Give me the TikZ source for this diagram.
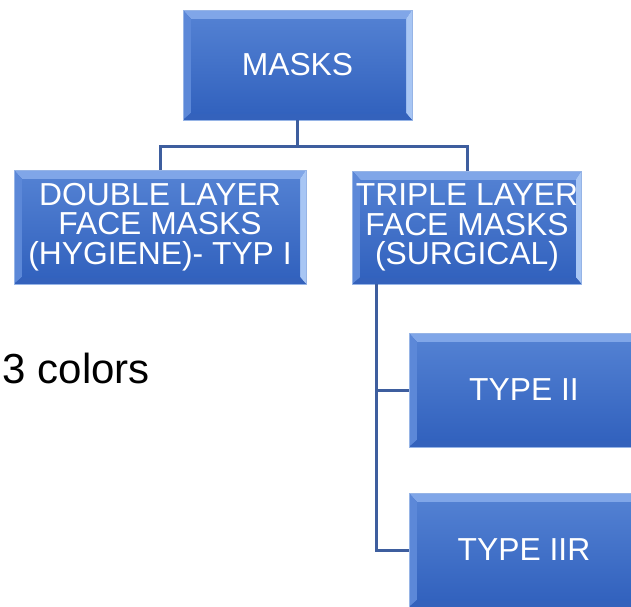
\documentclass[tikz,border=0pt]{standalone}
\usepackage{fontspec}
\setmainfont{Liberation Sans}
\definecolor{faceTop}{RGB}{82,128,210}
\definecolor{faceBot}{RGB}{50,98,190}
\definecolor{bevTop}{RGB}{128,166,232}
\definecolor{bevLeft}{RGB}{92,136,216}
\definecolor{bevRight}{RGB}{168,198,244}
\definecolor{bevBot}{RGB}{52,98,188}
\definecolor{rimCol}{RGB}{150,180,230}
\definecolor{linkCol}{RGB}{62,94,158}
\begin{document}
\begin{tikzpicture}[x=1pt,y=-1pt,
  mbox/.style={
    fill=faceBot,
    draw=rimCol, line width=0.6pt,
    inner sep=0pt, align=center, text=white,
    font=\fontsize{31.8}{29.5}\selectfont,
    path picture={
      \fill[bevTop]
        (path picture bounding box.north west) -- (path picture bounding box.north east)
        -- ([xshift=-6pt,yshift=-9pt]path picture bounding box.north east)
        -- ([xshift=8pt,yshift=-9pt]path picture bounding box.north west) -- cycle;
      \fill[bevLeft]
        (path picture bounding box.north west) -- ([xshift=8pt,yshift=-9pt]path picture bounding box.north west)
        -- ([xshift=8pt,yshift=7pt]path picture bounding box.south west)
        -- (path picture bounding box.south west) -- cycle;
      \fill[bevRight]
        (path picture bounding box.north east) -- ([xshift=-6pt,yshift=-9pt]path picture bounding box.north east)
        -- ([xshift=-6pt,yshift=7pt]path picture bounding box.south east)
        -- (path picture bounding box.south east) -- cycle;
      \fill[bevBot]
        (path picture bounding box.south west) -- ([xshift=8pt,yshift=7pt]path picture bounding box.south west)
        -- ([xshift=-6pt,yshift=7pt]path picture bounding box.south east)
        -- (path picture bounding box.south east) -- cycle;
      \shade[top color=faceTop, bottom color=faceBot]
        ([xshift=8pt,yshift=-9pt]path picture bounding box.north west)
        rectangle ([xshift=-6pt,yshift=7pt]path picture bounding box.south east);
    }},
  link/.style={draw=linkCol, line width=3pt}
]
\useasboundingbox (0,0) rectangle (631,606);
\clip (0,0) rectangle (631,606);
\fill[white] (0,0) rectangle (631,606);

\node[mbox, minimum width=229pt, minimum height=110pt] (masks) at (297.5,65) {MASKS};
\node[mbox, minimum width=292pt, minimum height=114pt] (double) at (160,227) {DOUBLE LAYER\\FACE MASKS\\(HYGIENE)- TYP I};
\node[mbox, minimum width=229pt, minimum height=113pt] (triple) at (467,227.5) {TRIPLE LAYER\\FACE MASKS\\(SURGICAL)};
\node[mbox, minimum width=230pt, minimum height=114pt] (typeii) at (524,390) {TYPE II};
\node[mbox, minimum width=230pt, minimum height=114pt] (typeiir) at (524,550) {TYPE IIR};

\node[anchor=base west, inner sep=0pt, font=\fontsize{42}{48}\selectfont] (note) at (2.5,383) {3 colors};

\coordinate (split) at (297.5,146);
\draw[link] (masks.south) -- (split);
\draw[link] (split) -| (double.north);
\draw[link] (split) -| (triple.north);
\coordinate (stem) at (376,284);
\draw[link] (stem) |- (typeii.west);
\draw[link] (stem) |- (typeiir.west);
\end{tikzpicture}
\end{document}
